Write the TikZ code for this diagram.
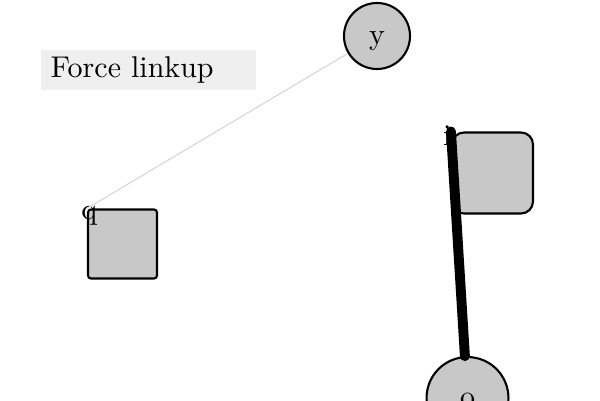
\documentclass[tikz,border=0pt]{standalone}
\usetikzlibrary{shapes.geometric, arrows, positioning}
\definecolor{nodegray}{RGB}{200,200,200}
\definecolor{boxgray}{RGB}{239,239,239}
\definecolor{linkgray}{RGB}{212,212,212}
\tikzstyle{roundnode} = [circle, draw=black, fill=nodegray, line width=0.7pt, text height=5.5pt, text depth=0pt]
\tikzstyle{squarenode} = [rectangle, rounded corners=1pt, minimum width=23pt, minimum height=23pt, draw=black, fill=nodegray, line width=0.7pt]
\tikzstyle{softnode} = [rectangle, rounded corners=4pt, minimum width=27pt, minimum height=27pt, draw=black, fill=nodegray, line width=0.7pt]
\tikzstyle{caption} = [rectangle, fill=boxgray, text width=65pt, inner xsep=3.33pt, inner ysep=1pt, minimum height=13.3pt, align=left, anchor=west]
\tikzstyle{corner} = [anchor=center, label distance=0pt]
\tikzstyle{thinlink} = [draw=linkgray, line width=0.35pt]
\tikzstyle{thicklink} = [draw=black, line width=3.3pt, line cap=round]

\begin{document}
\begin{tikzpicture}[x=0.3333pt, y=-0.3333pt]
    \useasboundingbox (0,0) rectangle (600,400);
    % Nodes
    \node (title) [caption] at (40,70) {Force linkup};
    \node (y) [roundnode, minimum size=22pt] at (377,36) {y};
    \node (q) [squarenode, label={[corner, xshift=0.8pt, yshift=-2.5pt]north west:q}] at (122.5,244) {};
    \node (i) [softnode] at (492.5,173) {};
    \node (o) [roundnode, minimum size=27.3pt] at (467.5,398) {o};

    % Links
    \draw [thinlink] (y) -- (q.north west);
    \draw [thicklink] (i.north west) -- (o);
    \node (ilabel) at ([xshift=-1.2pt, yshift=-1.5pt]i.north west) {i};
\end{tikzpicture}
\end{document}
